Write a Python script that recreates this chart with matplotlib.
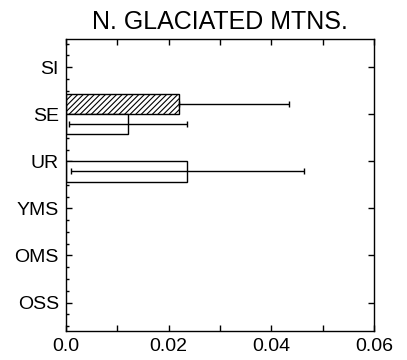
import matplotlib
matplotlib.use('Agg')
import matplotlib.pyplot as plt
import numpy as np
from matplotlib.ticker import MultipleLocator

# categories, top to bottom
categories = ['SI', 'SE', 'UR', 'YMS', 'OMS', 'OSS']

# hatched series (drawn above the category line)
hatched_vals = [0.0, 0.0221, 0.0, 0.0, 0.0, 0.0]
hatched_err = [0.0, 0.0213, 0.0, 0.0, 0.0, 0.0]

# open series (drawn below the category line)
open_vals = [0.0, 0.0121, 0.0236, 0.0, 0.0, 0.0]
open_err = [0.0, 0.0115, 0.0227, 0.0, 0.0, 0.0]

x_ticks = [0.0, 0.02, 0.04, 0.06]
x_labels = ['0.0', '0.02', '0.04', '0.06']

plt.rcParams['font.family'] = ['Liberation Sans', 'DejaVu Sans']
plt.rcParams['hatch.linewidth'] = 0.8

fig = plt.figure(figsize=(4.07, 3.6), dpi=100)
ax = fig.add_axes([0.162, 0.081, 0.757, 0.811])

ypos = np.arange(len(categories))[::-1]
h = 0.43

for y, v, e in zip(ypos, hatched_vals, hatched_err):
    if v > 0:
        ax.barh(y + h / 2, v, height=h, color='white', edgecolor='black',
                hatch='//////', linewidth=1.0, zorder=2)
        ax.errorbar(v, y + h / 2, xerr=[[0], [e]], fmt='none', ecolor='black',
                    elinewidth=1.0, capsize=2, capthick=1.0, zorder=3)

for y, v, e in zip(ypos, open_vals, open_err):
    if v > 0:
        ax.barh(y - h / 2, v, height=h, color='white', edgecolor='black',
                linewidth=1.0, zorder=2)
        ax.errorbar(v, y - h / 2, xerr=e, fmt='none', ecolor='black',
                    elinewidth=1.0, capsize=2, capthick=1.0, zorder=3)

ax.set_xlim(0, 0.06)
ax.set_ylim(-0.6, len(categories) - 0.4)
ax.set_xticks(x_ticks)
ax.set_xticklabels(x_labels)
ax.xaxis.set_minor_locator(MultipleLocator(0.01))
ax.set_yticks(ypos)
ax.set_yticklabels(categories)
ax.yaxis.set_minor_locator(MultipleLocator(0.25))

ax.tick_params(axis='both', which='both', direction='in', top=True, right=True,
               labelsize=14, width=1.0, color='black')
ax.tick_params(axis='x', which='both', length=4, pad=5)
ax.tick_params(axis='y', which='major', length=4, pad=5)
ax.tick_params(axis='y', which='minor', length=2.5, right=False)

for s in ax.spines.values():
    s.set_linewidth(1.0)
    s.set_color('black')

ax.set_title('N. GLACIATED MTNS.', fontsize=18, pad=7)

fig.savefig('out.png', dpi=100)
